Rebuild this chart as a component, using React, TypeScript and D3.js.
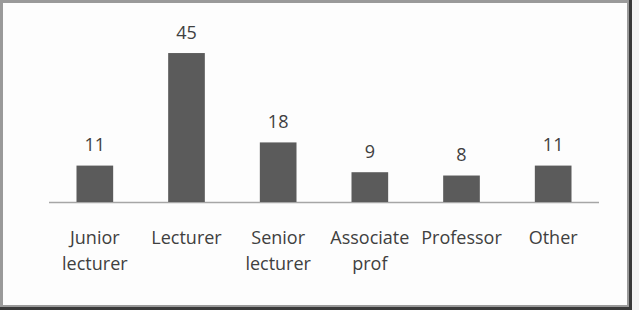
import React from "react";
import * as d3 from "d3";

const categories = ["Junior\nlecturer", "Lecturer", "Senior\nlecturer", "Associate\nprof", "Professor", "Other"];
const values = [11, 45, 18, 9, 8, 11];

const W = 639;
const H = 310;
const plot = { left: 49, right: 599, top: 36.5, bottom: 202 };

export default function App() {
  const x = d3.scaleBand<string>().domain(categories).range([plot.left, plot.right]).paddingInner(0.6).paddingOuter(0.3);
  const y = d3.scaleLinear().domain([0, 50]).range([plot.bottom, plot.top]);
  const font = "'Open Sans', sans-serif";
  return (
    <svg width={W} height={H} style={{ position: "absolute", left: 0, top: 0 }} xmlns="http://www.w3.org/2000/svg">
      <rect x={0} y={0} width={W} height={H} fill="#f4f4f4" />
      <rect x={0} y={0} width={632} height={310} fill="#3a3a3a" />
      <rect x={0} y={0} width={629} height={307} fill="#9a9a9a" />
      <rect x={3} y={3} width={624} height={302} fill="#fdfdfd" />
      <line x1={plot.left} x2={plot.right} y1={plot.bottom + 0.5} y2={plot.bottom + 0.5} stroke="#a6a6a6" strokeWidth={1.5} />
      {categories.map((c, i) => (
        <g key={c}>
          <rect x={x(c)} y={y(values[i])} width={x.bandwidth()} height={plot.bottom - y(values[i])} fill="#5b5b5b" />
          <text x={(x(c) as number) + x.bandwidth() / 2} y={y(values[i]) - 14.5} textAnchor="middle" fontFamily={font} fontSize={18} fill="#404040">
            {values[i]}
          </text>
          <text x={(x(c) as number) + x.bandwidth() / 2} y={244} textAnchor="middle" fontFamily={font} fontSize={18} fill="#404040">
            {c.split("\n").map((line, j) => (
              <tspan key={j} x={(x(c) as number) + x.bandwidth() / 2} dy={j === 0 ? 0 : 26}>
                {line}
              </tspan>
            ))}
          </text>
        </g>
      ))}
    </svg>
  );
}
